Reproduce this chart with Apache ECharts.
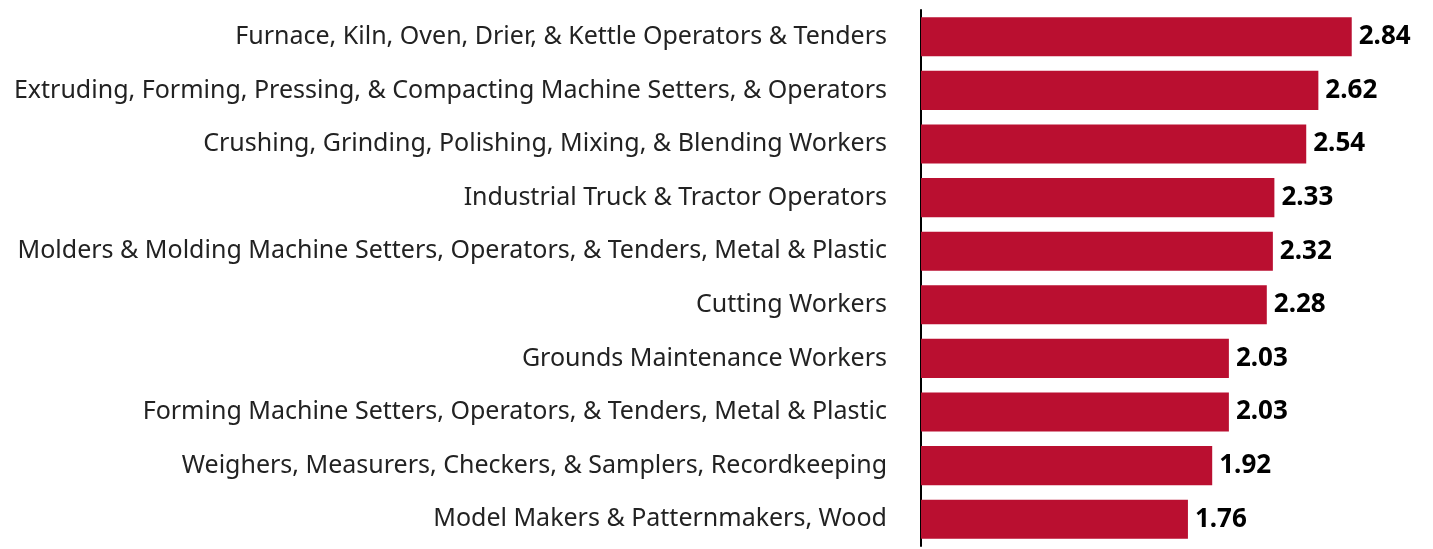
<!DOCTYPE html>
<html>
<head>
<meta charset="utf-8">
<script src="https://cdn.jsdelivr.net/npm/echarts@6/dist/echarts.min.js"></script>
<style>
  html, body { margin: 0; padding: 0; background: #fff; }
  #chart { width: 1433px; height: 549px; }
</style>
</head>
<body>
<div id="chart"></div>
<script>
// categories listed bottom-to-top (ECharts category y axis starts at bottom)
const occupations = [
  'Model Makers & Patternmakers, Wood',
  'Weighers, Measurers, Checkers, & Samplers, Recordkeeping',
  'Forming Machine Setters, Operators, & Tenders, Metal & Plastic',
  'Grounds Maintenance Workers',
  'Cutting Workers',
  'Molders & Molding Machine Setters, Operators, & Tenders, Metal & Plastic',
  'Industrial Truck & Tractor Operators',
  'Crushing, Grinding, Polishing, Mixing, & Blending Workers',
  'Extruding, Forming, Pressing, & Compacting Machine Setters, & Operators',
  'Furnace, Kiln, Oven, Drier, & Kettle Operators & Tenders'
];
const ratios = [1.76, 1.92, 2.03, 2.03, 2.28, 2.32, 2.33, 2.54, 2.62, 2.84];

const chart = echarts.init(document.getElementById('chart'));
chart.setOption({
  animation: false,
  grid: { left: 921, right: 57, top: 10, bottom: 3 },
  xAxis: {
    type: 'value',
    min: 0,
    max: 3,
    show: false
  },
  yAxis: {
    type: 'category',
    data: occupations,
    axisLine: { show: true, lineStyle: { color: '#000', width: 2 } },
    axisTick: { show: false },
    axisLabel: {
      color: '#222',
      fontFamily: 'Noto Sans',
      fontSize: 25,
      margin: 34,
      padding: [4, 0, 0, 0]
    }
  },
  series: [{
    type: 'bar',
    data: ratios,
    barCategoryGap: '27%',
    itemStyle: { color: '#BA0F30' },
    label: {
      show: true,
      position: 'right',
      distance: 7,
      padding: [4, 0, 0, 0],
      formatter: p => p.value.toFixed(2),
      color: '#000',
      fontFamily: 'Noto Sans',
      fontWeight: 'bold',
      fontSize: 26
    }
  }]
});
</script>
</body>
</html>
